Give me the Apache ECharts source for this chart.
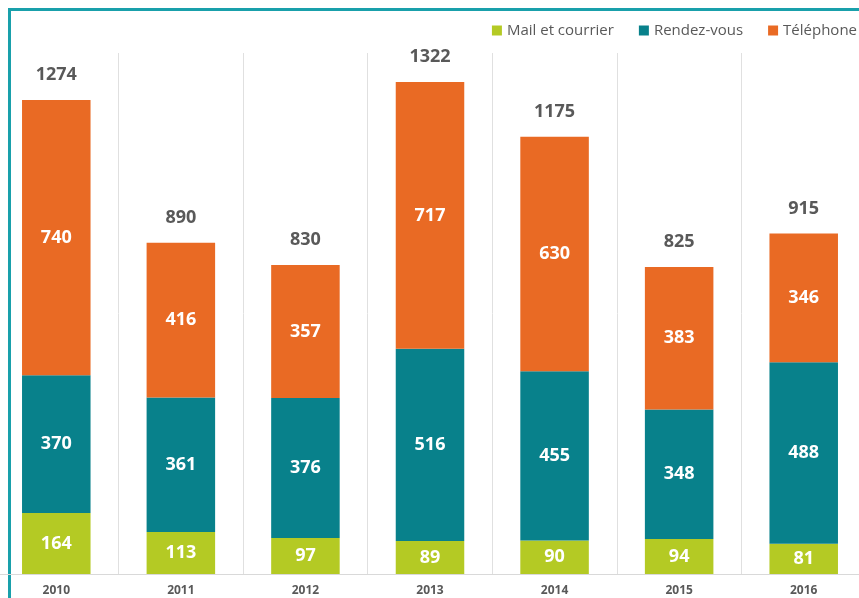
<!DOCTYPE html>
<html>
<head>
<meta charset="utf-8">
<script src="https://cdn.jsdelivr.net/npm/echarts@6/dist/echarts.min.js"></script>
<style>
  html, body { margin: 0; padding: 0; background: #fff; overflow: hidden; }
  #main { width: 872px; height: 598px; margin-left: -6px; }
</style>
</head>
<body>
<div id="main"></div>
<script>
// données
const annees = ['2010', '2011', '2012', '2013', '2014', '2015', '2016'];
const mail = [164, 113, 97, 89, 90, 94, 81];
const rdv = [370, 361, 376, 516, 455, 348, 488];
const telephone = [740, 416, 357, 717, 630, 383, 346];
const totaux = [1274, 890, 830, 1322, 1175, 825, 915];

const chart = echarts.init(document.getElementById('main'));

const segLabel = {
  show: true,
  position: 'inside',
  color: '#fff',
  fontFamily: 'Open Sans',
  fontWeight: 'bold',
  fontSize: 18
};

let option = {
  animation: false,
  textStyle: { fontFamily: 'Open Sans' },
  graphic: [
    // cadre turquoise (coin haut gauche)
    {
      type: 'polyline',
      shape: { points: [[15.5, 598], [15.5, 9.5], [872, 9.5]] },
      style: { stroke: '#19a0ab', lineWidth: 3, fill: null }
    }
  ],
  legend: {
    data: ['Mail et courrier', 'Rendez-vous', 'Téléphone'],
    right: 4,
    top: 18,
    itemWidth: 10,
    itemHeight: 10,
    itemGap: 25,
    icon: 'rect',
    textStyle: { color: '#595959', fontSize: 15, fontFamily: 'Open Sans' }
  },
  grid: {
    left: 0,
    right: 0,
    top: 53,
    bottom: 24
  },
  xAxis: {
    type: 'category',
    data: annees,
    axisTick: { show: false },
    axisLine: { lineStyle: { color: '#d9d9d9', width: 1 } },
    axisLabel: {
      color: '#595959',
      fontWeight: 'bold',
      fontSize: 12,
      margin: 11,
      fontFamily: 'Open Sans'
    },
    splitLine: { show: true, lineStyle: { color: '#e0e0e0', width: 1 } }
  },
  yAxis: {
    type: 'value',
    min: 0,
    max: 1400,
    show: false,
    splitLine: { show: false }
  },
  series: [
    {
      name: 'Mail et courrier',
      type: 'bar',
      stack: 'total',
      barWidth: '55%',
      data: mail,
      itemStyle: { color: '#b4ca24' },
      label: segLabel
    },
    {
      name: 'Rendez-vous',
      type: 'bar',
      stack: 'total',
      data: rdv,
      itemStyle: { color: '#08818b' },
      label: segLabel
    },
    {
      name: 'Téléphone',
      type: 'bar',
      stack: 'total',
      data: telephone,
      itemStyle: { color: '#e96a24' },
      label: segLabel
    },
    {
      // étiquettes des totaux au-dessus des barres
      name: 'Total',
      type: 'bar',
      stack: 'total',
      data: annees.map(() => 0),
      itemStyle: { color: 'transparent' },
      label: {
        show: true,
        position: 'top',
        distance: 16,
        color: '#595959',
        fontFamily: 'Open Sans',
        fontWeight: 'bold',
        fontSize: 18,
        formatter: p => totaux[p.dataIndex]
      }
    }
  ]
};

chart.setOption(option);
</script>
</body>
</html>
